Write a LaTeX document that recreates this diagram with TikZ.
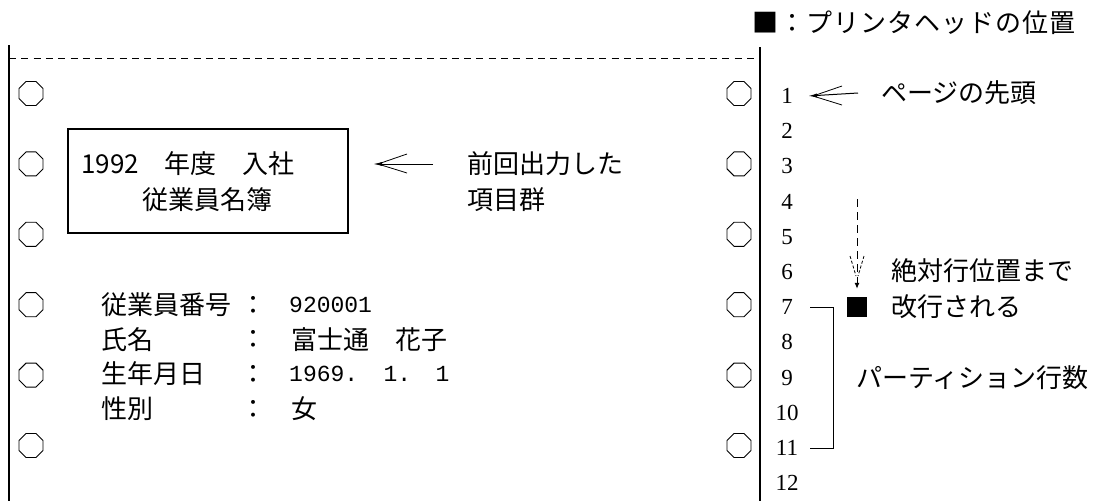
\documentclass[tikz,border=0pt]{standalone}
\usepackage{fontspec}
\newfontfamily\jp{Noto Sans CJK JP}
\newfontfamily\mono{Liberation Mono}
\newfontfamily\serifnum{Liberation Serif}
\usetikzlibrary{arrows.meta,shapes.geometric}
\begin{document}
\begin{tikzpicture}[x=1pt,y=-1pt,
  hole/.style={draw,regular polygon,regular polygon sides=8,minimum size=26pt,inner sep=0pt,line width=0.9pt},
  jt/.style={font=\jp\fontsize{26}{30}\selectfont,inner sep=0pt,anchor=west},
  num/.style={font=\serifnum\fontsize{23}{27}\selectfont,inner sep=0pt},
  mt/.style={font=\mono\fontsize{23}{27}\selectfont,inner sep=0pt,anchor=west},
  pageedge/.style={line width=1.8pt},
  thinline/.style={line width=1pt},
  barb/.style={line width=0.8pt}]
\useasboundingbox (0,0) rectangle (1106,501);
% page edges and perforation
\draw[pageedge] (9,45) -- (9,501);
\draw[pageedge] (760,47) -- (760,501);
\draw[line width=0.9pt,dash pattern=on 7pt off 5.3pt] (9,58) -- (760,58);
% holes
\foreach \k in {0,...,5}{
  \node[hole] (hl\k) at (31,{93.5+70.4*\k}) {};
  \node[hole] (hr\k) at (739,{93.5+70.4*\k}) {};
}
% box
\node[draw,line width=1.2pt,minimum width=280pt,minimum height=104pt,inner sep=0pt] (box) at (208,181) {};
\node[jt] (t1992) at (81,164) {1992　年度　入社};
\node[jt,anchor=center] (meibo) at (207,199.5) {従業員名簿};
% arrow to box
\coordinate (a1tip) at (373,164);
\coordinate (a1tail) at (433,164);
\draw[thinline,-{Latex[length=9pt,width=4pt]}] (a1tail) -- (a1tip);
\draw[barb] ([xshift=5pt]a1tip) -- ++(29,-10);
\draw[barb] ([xshift=5pt]a1tip) -- ++(29,9);
\node[jt] (zenkai) at (467,164) {前回出力した};
\node[jt] (komoku) at (467,199.5) {項目群};
% item lines
\node[jt] (l1) at (101,305) {従業員番号};
\node[jt,anchor=center] (c1) at (253,305) {：};
\node[mt] (v1) at (289,305) {920001};
\node[jt] (l2) at (101,339.5) {氏名};
\node[jt,anchor=center] (c2) at (253,339.5) {：};
\node[jt] (v2) at (291,339.5) {富士通　花子};
\node[jt] (l3) at (101,374) {生年月日};
\node[jt,anchor=center] (c3) at (253,374) {：};
\node[mt] (v3) at (289,374) {1969. \hspace{7pt}1. \hspace{6pt}1};
\node[jt] (l4) at (101,409) {性別};
\node[jt,anchor=center] (c4) at (253,409) {：};
\node[jt] (v4) at (291,409) {女};
% row numbers
\foreach \i in {1,...,12}{
  \node[num] (n\i) at (787,{96+35.2*(\i-1)}) {\i};
}
% legend
\node[jt] (legend) at (752,23) {\makebox[323pt][s]{■\hfill ：\hfill プ\hfill リ\hfill ン\hfill タ\hfill ヘ\hfill ッ\hfill ド\hfill の\hfill 位\hfill 置}};
% arrow to line 1
\coordinate (a2tip) at ([xshift=21pt]n1.center);
\coordinate (a2tail) at (858,93);
\draw[thinline,-{Latex[length=9pt,width=4pt]}] (a2tail) -- (a2tip);
\draw[barb] ([xshift=5pt]a2tip) -- ++(29,-10);
\draw[barb] ([xshift=5pt]a2tip) -- ++(29,9);
\node[jt] (top) at (881,93) {ページの先頭};
% dashed vertical arrow
\node[fill,minimum size=20pt,inner sep=0pt] (head) at (857,307) {};
\coordinate (dstart) at (857,199);
\draw[thinline,dash pattern=on 8pt off 5pt,-{Latex[length=6pt,width=5pt]}] (dstart) -- ([yshift=8pt]head.north);
\draw[barb,dash pattern=on 3pt off 2pt] (850,256) -- (856,276);
\draw[barb,dash pattern=on 3pt off 2pt] (864,256) -- (858,276);
\node[jt] (zettai) at (891,271) {絶対行位置まで};
\node[jt] (kaigyo) at (891,307) {改行される};
% bracket
\draw[thinline] ([xshift=23pt]n7.center) -- ++(23,0) |- ([xshift=23pt]n11.center);
\node[jt] (part) at (856,378) {パーティション行数};
\end{tikzpicture}
\end{document}
